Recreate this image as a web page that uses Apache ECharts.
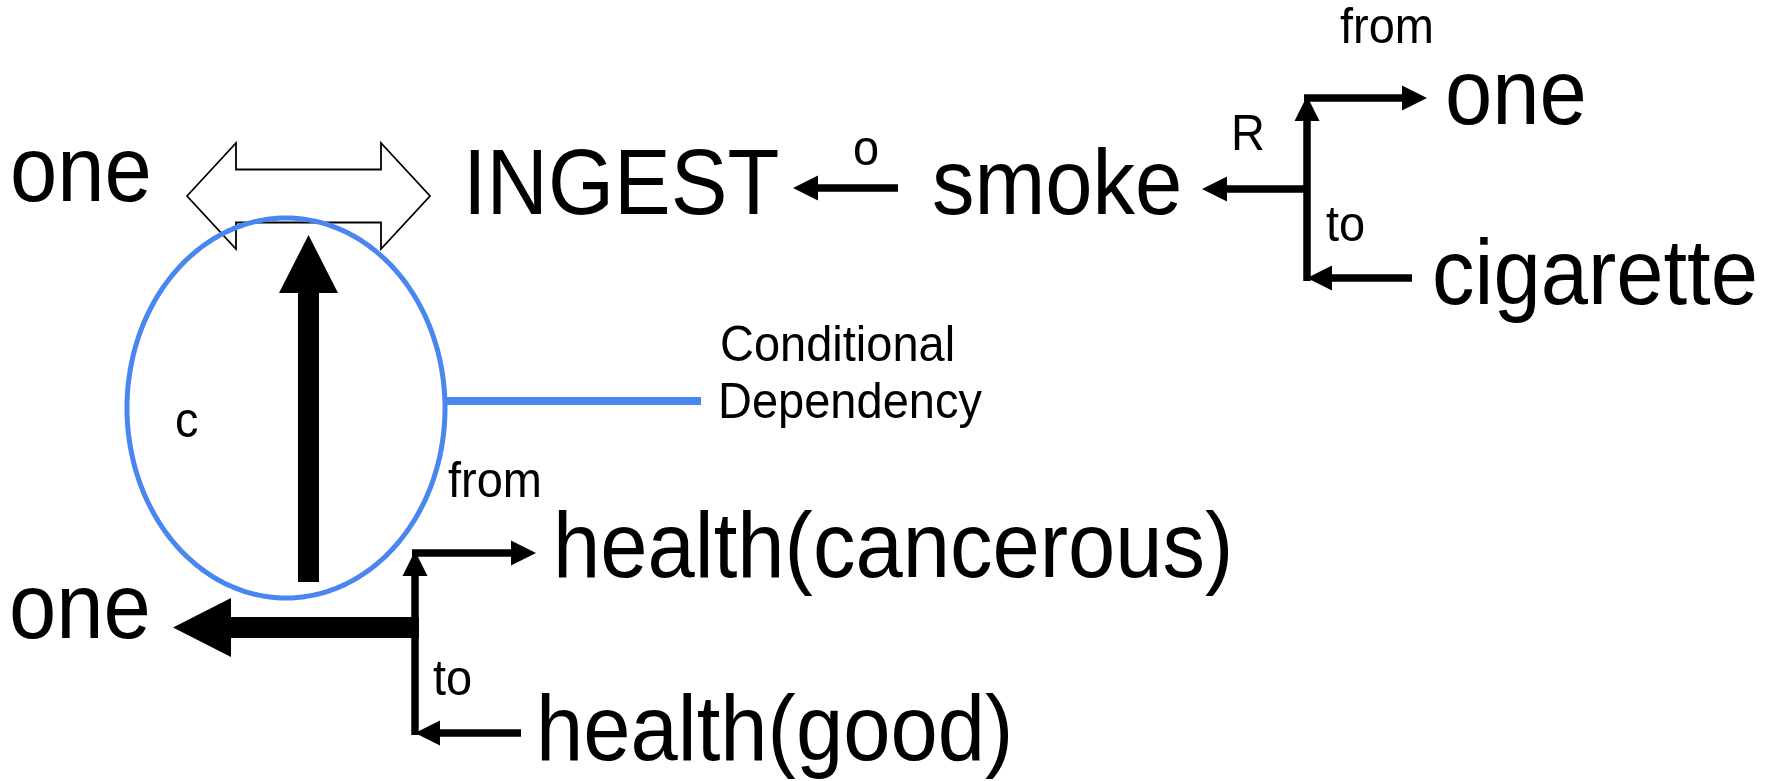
<!DOCTYPE html>
<html>
<head>
<meta charset="utf-8">
<script src="https://cdn.jsdelivr.net/npm/echarts@6/dist/echarts.min.js"></script>
<style>
html,body{margin:0;padding:0;background:#ffffff;}
#chart{width:1777px;height:781px;}
</style>
</head>
<body>
<div id="chart"></div>
<script>
// ---- Diagram data (diagram units = axis units) ----
// Large concept labels: text, left x, baseline y
const bigLabels = ['one', 'INGEST', 'smoke', 'one', 'cigarette', 'one', 'health(cancerous)', 'health(good)'];
const bigLabelX = [10, 463, 932, 1445, 1432, 9, 553, 536];
const bigLabelY = [204, 217, 217, 127, 307, 641, 580, 763];

// Small annotation labels: text, left x, baseline y
const smallLabels = ['from', 'R', 'to', 'o', 'c', 'Conditional', 'Dependency', 'from', 'to'];
const smallLabelX = [1340, 1231, 1326, 853, 175, 720, 718, 448, 433];
const smallLabelY = [45, 152, 243, 167, 439, 363, 420, 499, 697];

// Thin arrows: [fromX, fromY, tipX, tipY]
const thinArrows = [
  [1307, 281, 1307, 96],
  [1304, 98, 1427, 98],
  [1307, 189, 1202, 189],
  [1412, 278, 1307, 278],
  [898, 188, 793, 188],
  [415, 735, 415, 551],
  [412, 553, 536, 553],
  [521, 733, 415, 733]
];
// Thick arrows: [fromX, fromY, tipX, tipY]
const thickArrows = [
  [419, 627.5, 173, 627.5],
  [308.5, 582, 308.5, 235]
];
// Hollow double arrow: [leftTipX, rightTipX, centerY]
const doubleArrow = [[187, 430, 196]];
// Conditional-dependency ellipse: [cx, cy, rx, ry]
const depEllipse = [[286, 408, 159, 190]];
// Blue connector line: [x1, y1, x2, y2]
const connector = [[445, 401, 701, 401]];

// ---- Styles ----
const FONT = 'Liberation Sans, Arial, Helvetica, sans-serif';
const BIG_FS = 85, SMALL_FS = 47, BIG_SY = 1.1, SMALL_SY = 1.08, MID_OFF = 0.31;
const BLUE = '#4a86f0';

function arrowPoints(p1, p2, shaftW, headL, headW) {
  const dx = p2[0] - p1[0], dy = p2[1] - p1[1];
  const len = Math.hypot(dx, dy);
  const ux = dx / len, uy = dy / len, nx = -uy, ny = ux;
  const bx = p2[0] - ux * headL, by = p2[1] - uy * headL;
  const s = shaftW / 2, h = headW / 2;
  return [
    [p1[0] + nx * s, p1[1] + ny * s],
    [bx + nx * s, by + ny * s],
    [bx + nx * h, by + ny * h],
    [p2[0], p2[1]],
    [bx - nx * h, by - ny * h],
    [bx - nx * s, by - ny * s],
    [p1[0] - nx * s, p1[1] - ny * s]
  ];
}

function arrowSeries(data, shaftW, headL, headW, z) {
  return {
    type: 'custom', coordinateSystem: 'cartesian2d', z: z, silent: true, clip: false,
    encode: { x: [0, 2], y: [1, 3] },
    data: data,
    renderItem: function (params, api) {
      const p1 = api.coord([api.value(0), api.value(1)]);
      const p2 = api.coord([api.value(2), api.value(3)]);
      return { type: 'polygon', shape: { points: arrowPoints(p1, p2, shaftW, headL, headW) }, style: { fill: '#000' } };
    }
  };
}

function labelSeries(texts, xs, ys, fs, sy, z) {
  return {
    type: 'custom', coordinateSystem: 'cartesian2d', z: z, silent: true, clip: false,
    data: xs.map(function (x, i) { return [x, ys[i]]; }),
    renderItem: function (params, api) {
      const p = api.coord([api.value(0), api.value(1)]);
      return {
        type: 'text', x: p[0], y: p[1] - MID_OFF * fs * sy, scaleX: 1, scaleY: sy,
        style: { text: texts[params.dataIndex], fontSize: fs, fontFamily: FONT, fill: '#000', align: 'left', verticalAlign: 'middle' }
      };
    }
  };
}

const chart = echarts.init(document.getElementById('chart'), null, { renderer: 'canvas' });
chart.setOption({
  animation: false,
  backgroundColor: '#ffffff',
  grid: { left: 0, right: 0, top: 0, bottom: 0 },
  xAxis: { type: 'value', min: 0, max: 1777, show: false },
  yAxis: { type: 'value', min: 0, max: 781, inverse: true, show: false },
  series: [
    {
      type: 'custom', coordinateSystem: 'cartesian2d', z: 1, silent: true, clip: false,
      data: doubleArrow,
      renderItem: function (params, api) {
        const L = api.coord([api.value(0), api.value(2)]);
        const R = api.coord([api.value(1), api.value(2)]);
        const hl = 49, hh = 53, sh = 26.5, cy = L[1];
        const pts = [
          [L[0], cy], [L[0] + hl, cy - hh], [L[0] + hl, cy - sh], [R[0] - hl, cy - sh], [R[0] - hl, cy - hh],
          [R[0], cy], [R[0] - hl, cy + hh], [R[0] - hl, cy + sh], [L[0] + hl, cy + sh], [L[0] + hl, cy + hh]
        ];
        return { type: 'polygon', shape: { points: pts }, style: { fill: '#fff', stroke: '#000', lineWidth: 1.8 } };
      }
    },
    {
      type: 'custom', coordinateSystem: 'cartesian2d', z: 2, silent: true, clip: false,
      data: depEllipse,
      renderItem: function (params, api) {
        const c = api.coord([api.value(0), api.value(1)]);
        const ex = api.coord([api.value(0) + api.value(2), api.value(1)]);
        const ey = api.coord([api.value(0), api.value(1) + api.value(3)]);
        const rx = Math.abs(ex[0] - c[0]), ry = Math.abs(ey[1] - c[1]);
        const pts = [];
        for (let k = 0; k < 360; k++) {
          const a = k * Math.PI / 180;
          pts.push([c[0] + rx * Math.cos(a), c[1] + ry * Math.sin(a)]);
        }
        return { type: 'polygon', shape: { points: pts }, style: { fill: 'none', stroke: BLUE, lineWidth: 5 } };
      }
    },
    {
      type: 'custom', coordinateSystem: 'cartesian2d', z: 2, silent: true, clip: false,
      encode: { x: [0, 2], y: [1, 3] },
      data: connector,
      renderItem: function (params, api) {
        const p1 = api.coord([api.value(0), api.value(1)]);
        const p2 = api.coord([api.value(2), api.value(3)]);
        return { type: 'line', shape: { x1: p1[0], y1: p1[1], x2: p2[0], y2: p2[1] }, style: { stroke: BLUE, lineWidth: 8 } };
      }
    },
    arrowSeries(thinArrows, 7.5, 25, 25, 3),
    arrowSeries(thickArrows, 21, 58, 59, 4),
    labelSeries(bigLabels, bigLabelX, bigLabelY, BIG_FS, BIG_SY, 5),
    labelSeries(smallLabels, smallLabelX, smallLabelY, SMALL_FS, SMALL_SY, 5)
  ]
});
</script>
</body>
</html>
